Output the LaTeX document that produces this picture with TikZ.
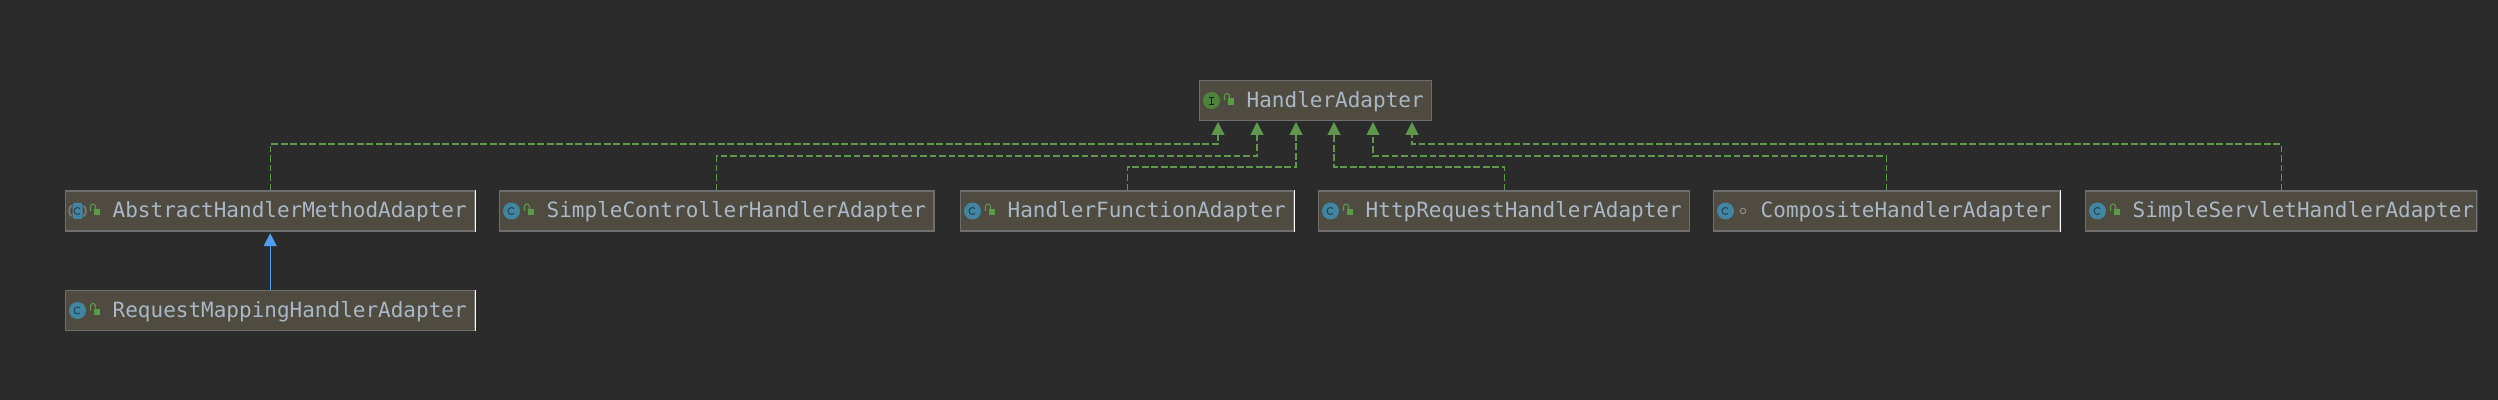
\documentclass[tikz,border=0pt]{standalone}
\usepackage{fontspec}
\usepackage{xcolor}
\usepackage{tikz}
\usetikzlibrary{arrows.meta}
\newfontfamily\codefont{DejaVu Sans Mono}
\definecolor{bgdark}{HTML}{2B2B2B}
\definecolor{boxfill}{HTML}{4F4B41}
\definecolor{boxline}{HTML}{6E6E6E}
\definecolor{nametext}{HTML}{A9B7C6}
\definecolor{implgreen}{HTML}{5B9A46}
\definecolor{extblue}{HTML}{4F9EF0}
\definecolor{classteal}{HTML}{4085A2}
\definecolor{glyphdark}{HTML}{26414F}
\newcommand{\lockicon}[1]{%
  \fill[implgreen] ([shift={(.57,-.09)}]#1.west) rectangle ([shift={(.70,.04)}]#1.west);
  \draw[implgreen,line width=.6pt] ([shift={(.51,.0)}]#1.west) -- ([shift={(.51,.09)}]#1.west)
    arc[start angle=180,end angle=0,radius=.05cm] -- ([shift={(.61,.04)}]#1.west);
}
\newcommand{\classicon}[1]{%
  \fill[classteal] ([xshift=.25cm]#1.west) circle (.17cm);
  \draw[glyphdark,line width=.55pt] ([shift={(.30,.05)}]#1.west) arc[start angle=45,end angle=315,radius=.07cm];
}

\begin{document}
\begin{tikzpicture}[
  >={Triangle[length=.26cm,width=.26cm]},
  cls/.style={anchor=west,draw=boxline,fill=boxfill,line width=.8pt,minimum height=.8cm,
    inner xsep=.16cm,inner ysep=0pt,text height=.38cm,text depth=.1cm,text=nametext,
    font=\codefont\fontsize{11.95pt}{14pt}\selectfont,
    execute at begin node={\hspace*{#1}}},
  cls/.default=.78cm,
  impl/.style={->,implgreen!90!gray,line width=.65pt,dash pattern=on .135cm off .055cm},
  ext/.style={->,extblue,line width=.7pt,shorten >=.03cm},
  edge/.style={white,line width=.8pt}
]
  \fill[bgdark] (0,0) rectangle (49.96,-8);
  \useasboundingbox (0,0) rectangle (49.96,-8);

  \node[cls] (adapter) at (23.98,-2.01) {HandlerAdapter};
  \node[cls] (abstract) at (1.30,-4.22) {AbstractHandlerMethodAdapter};
  \node[cls] (controller) at (9.98,-4.22) {SimpleControllerHandlerAdapter};
  \node[cls] (function) at (19.20,-4.22) {HandlerFunctionAdapter};
  \node[cls] (http) at (26.36,-4.22) {HttpRequestHandlerAdapter};
  \node[cls] (composite) at (34.26,-4.22) {CompositeHandlerAdapter};
  \node[cls=.88cm,inner xsep=.06cm] (servlet) at (41.70,-4.22) {SimpleServletHandlerAdapter};
  \node[cls] (request) at (1.30,-6.21) {RequestMappingHandlerAdapter};

  % tips under the interface
  \coordinate (t1) at (24.36,-2.44);
  \coordinate (t2) at (25.14,-2.44);
  \coordinate (t3) at (25.92,-2.44);
  \coordinate (t4) at (26.68,-2.44);
  \coordinate (t5) at (27.46,-2.44);
  \coordinate (t6) at (28.24,-2.44);

  \draw[impl] (abstract.north) |- (24.36,-2.88) -- (t1);
  \draw[impl] (controller.north) |- (25.14,-3.12) -- (t2);
  \draw[impl] (function.north) |- (25.92,-3.34) -- (t3);
  \draw[impl] (http.north) |- (26.68,-3.34) -- (t4);
  \draw[impl] (composite.north) |- (27.46,-3.12) -- (t5);
  \draw[impl] (servlet.north) |- (28.24,-2.88) -- (t6);
  \draw[ext] (request) -- (abstract);

  \foreach \n in {abstract,request,function,composite}
    \draw[edge] (\n.north east) -- (\n.south east);
  \draw[boxfill,line width=.8pt] (servlet.north east) -- (servlet.south east);

  % icons
  \foreach \n in {controller,function,http,composite,servlet,request}
    \classicon{\n};
  \foreach \n in {adapter,abstract,controller,function,http,servlet,request}
    \lockicon{\n};

  \fill[implgreen!85!black] ([xshift=.25cm]adapter.west) circle (.17cm);
  \draw[boxfill!40!black,line width=.55pt] ([shift={(.25,.07)}]adapter.west) -- ([shift={(.25,-.07)}]adapter.west)
    ([shift={(.20,.07)}]adapter.west) -- ([shift={(.30,.07)}]adapter.west)
    ([shift={(.20,-.07)}]adapter.west) -- ([shift={(.30,-.07)}]adapter.west);

  \draw[boxline!90!white,line width=.9pt] ([shift={(.13,.11)}]abstract.west) arc[start angle=130,end angle=230,radius=.14cm];
  \draw[boxline!90!white,line width=.9pt] ([shift={(.37,-.11)}]abstract.west) arc[start angle=-50,end angle=50,radius=.14cm];
  \fill[classteal,rounded corners=.04cm] ([shift={(.15,-.16)}]abstract.west) rectangle ([shift={(.35,.16)}]abstract.west);
  \draw[glyphdark,line width=.55pt] ([shift={(.30,.05)}]abstract.west) arc[start angle=45,end angle=315,radius=.07cm];

  \draw[boxline!80!white,line width=.6pt] ([xshift=.60cm]composite.west) circle (.055cm);
\end{tikzpicture}
\end{document}
